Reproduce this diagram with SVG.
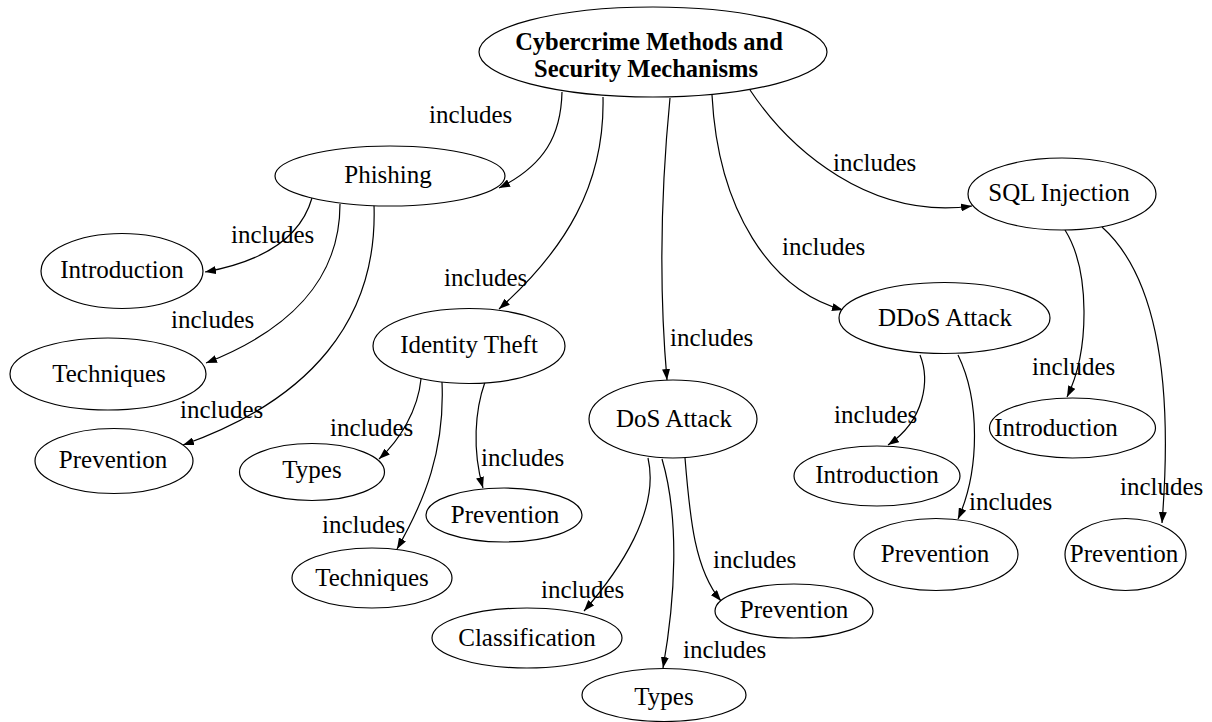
<svg xmlns="http://www.w3.org/2000/svg" width="1212" height="722" viewBox="0 0 1212 722">
  <style>
    .node ellipse { fill: #ffffff; stroke: #000000; stroke-width: 1.2; }
    .node text { font-family: "Liberation Serif", "Times New Roman", serif; font-size: 25px; fill: #000000; text-anchor: middle; }
    .root text { font-weight: bold; font-size: 24.5px; }
    .edge path { fill: none; stroke: #000000; stroke-width: 1.2; marker-end: url(#arrow); }
    .edge text { font-family: "Liberation Serif", "Times New Roman", serif; font-size: 25px; fill: #000000; }
  </style>
  <defs>
    <marker id="arrow" viewBox="0 0 11 8" refX="11" refY="4" markerWidth="11" markerHeight="8" markerUnits="userSpaceOnUse" orient="auto">
      <path d="M0,0 L11,4 L0,8 Z" fill="#000000"/>
    </marker>
  </defs>
  <rect width="1212" height="722" fill="#ffffff"/>

  <!-- connectors -->
  <g id="edges" class="edge">
    <path d="M562,92 C561,135 545,165 499,188"/>
    <text x="429" y="123">includes</text>
    <path d="M603,97 C605,185 565,250 499,309"/>
    <text x="444" y="286">includes</text>
    <path d="M670,98 C660,200 660,300 667,380"/>
    <text x="670" y="346">includes</text>
    <path d="M712,95 C718,210 770,290 843,310"/>
    <text x="782" y="255">includes</text>
    <path d="M750,90 C790,150 870,220 972,206"/>
    <text x="833" y="171">includes</text>

    <path d="M312,198 C300,240 260,262 205,272"/>
    <text x="231" y="243">includes</text>
    <path d="M340,204 C340,280 290,330 206,363"/>
    <text x="171" y="328">includes</text>
    <path d="M374,205 C378,320 310,400 183,445"/>
    <text x="180" y="418">includes</text>

    <path d="M421,379 C418,410 400,440 379,459"/>
    <text x="330" y="436">includes</text>
    <path d="M442,382 C445,450 425,500 397,549"/>
    <text x="322" y="533">includes</text>
    <path d="M485,382 C475,410 472,450 483,488"/>
    <text x="481" y="466">includes</text>

    <path d="M648,458 C660,510 620,570 584,611"/>
    <text x="541" y="598">includes</text>
    <path d="M662,459 C680,520 675,600 663,668"/>
    <text x="683" y="658">includes</text>
    <path d="M685,458 C690,520 695,570 721,601"/>
    <text x="713" y="568">includes</text>

    <path d="M920,355 C930,380 925,420 888,445"/>
    <text x="834" y="423">includes</text>
    <path d="M958,355 C980,400 980,470 958,519"/>
    <text x="969" y="510">includes</text>

    <path d="M1065,230 C1090,270 1090,350 1067,397"/>
    <text x="1032" y="375">includes</text>
    <path d="M1102,227 C1150,270 1175,360 1162,523"/>
    <text x="1120" y="495">includes</text>
  </g>

  <!-- nodes -->
  <g id="root" class="node root">
    <ellipse cx="653" cy="52" rx="174" ry="45"/>
    <text x="649" y="50">Cybercrime Methods and</text>
    <text x="646" y="77">Security Mechanisms</text>
  </g>
  <g id="phishing" class="node">
    <ellipse cx="390" cy="176" rx="115" ry="30"/>
    <text x="388" y="183">Phishing</text>
  </g>
  <g id="phishing-introduction" class="node">
    <ellipse cx="122" cy="271" rx="81" ry="37.5"/>
    <text x="122" y="278">Introduction</text>
  </g>
  <g id="phishing-techniques" class="node">
    <ellipse cx="108" cy="374" rx="98" ry="36"/>
    <text x="109" y="382">Techniques</text>
  </g>
  <g id="phishing-prevention" class="node">
    <ellipse cx="114" cy="461" rx="79" ry="32.5"/>
    <text x="113" y="468">Prevention</text>
  </g>
  <g id="identity-theft" class="node">
    <ellipse cx="469" cy="346" rx="96" ry="37.5"/>
    <text x="469" y="353">Identity Theft</text>
  </g>
  <g id="identity-types" class="node">
    <ellipse cx="312" cy="472" rx="72.5" ry="28.5"/>
    <text x="312" y="478">Types</text>
  </g>
  <g id="identity-prevention" class="node">
    <ellipse cx="504" cy="515" rx="78" ry="27"/>
    <text x="505" y="523">Prevention</text>
  </g>
  <g id="identity-techniques" class="node">
    <ellipse cx="372" cy="578" rx="80" ry="30"/>
    <text x="372" y="586">Techniques</text>
  </g>
  <g id="dos-attack" class="node">
    <ellipse cx="673" cy="419" rx="84" ry="39"/>
    <text x="674" y="427">DoS Attack</text>
  </g>
  <g id="dos-classification" class="node">
    <ellipse cx="527" cy="638" rx="95" ry="30"/>
    <text x="527" y="646">Classification</text>
  </g>
  <g id="dos-types" class="node">
    <ellipse cx="664" cy="695" rx="82" ry="26.5"/>
    <text x="664" y="705">Types</text>
  </g>
  <g id="dos-prevention" class="node">
    <ellipse cx="794" cy="611" rx="79" ry="27"/>
    <text x="794" y="618">Prevention</text>
  </g>
  <g id="ddos-attack" class="node">
    <ellipse cx="944.5" cy="318" rx="105.5" ry="35.5"/>
    <text x="945" y="326">DDoS Attack</text>
  </g>
  <g id="ddos-introduction" class="node">
    <ellipse cx="877" cy="476" rx="83" ry="30"/>
    <text x="877" y="483">Introduction</text>
  </g>
  <g id="ddos-prevention" class="node">
    <ellipse cx="936" cy="554.5" rx="82" ry="36"/>
    <text x="935" y="562">Prevention</text>
  </g>
  <g id="sql-injection" class="node">
    <ellipse cx="1062" cy="194" rx="94" ry="36"/>
    <text x="1059" y="201">SQL Injection</text>
  </g>
  <g id="sql-introduction" class="node">
    <ellipse cx="1072.5" cy="428" rx="83" ry="30"/>
    <text x="1056" y="436">Introduction</text>
  </g>
  <g id="sql-prevention" class="node">
    <ellipse cx="1125.5" cy="554.5" rx="60.5" ry="36"/>
    <text x="1124" y="562">Prevention</text>
  </g>
</svg>
